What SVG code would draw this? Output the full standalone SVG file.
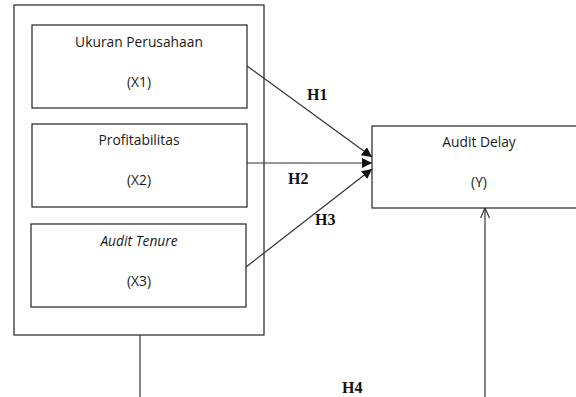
<svg xmlns="http://www.w3.org/2000/svg" width="576" height="397" viewBox="0 0 576 397">
<style>
.box{fill:#fff;stroke:#222;stroke-width:1.2}
.t{font-family:"Open Sans","Noto Sans",sans-serif;font-size:13.8px;fill:#1a1a1a;text-anchor:middle}
.h{font-family:"Liberation Serif","Times New Roman",serif;font-size:16px;font-weight:bold;fill:#111}
.c{stroke:#333;stroke-width:1.2;fill:none}
</style>
<defs>
<marker id="fa" viewBox="0 0 10 10" refX="10" refY="5" markerWidth="10" markerHeight="10" markerUnits="userSpaceOnUse" orient="auto"><path d="M0,0 L10,5 L0,10 z" fill="#111"/></marker>
<marker id="oa" viewBox="0 0 10 10" refX="10" refY="5" markerWidth="10" markerHeight="10" markerUnits="userSpaceOnUse" orient="auto"><path d="M0,0.5 L10,5 L0,9.5" fill="none" stroke="#333" stroke-width="1.2"/></marker>
</defs>
<rect width="576" height="397" fill="#fff"/>
<g id="outer"><rect class="box" x="14" y="5" width="250" height="330"/></g>
<g id="x1"><rect class="box" x="32" y="25" width="215" height="83"/><text class="t" x="139" y="47">Ukuran Perusahaan</text><text class="t" x="139" y="87">(X1)</text></g>
<g id="x2"><rect class="box" x="32" y="124" width="215" height="83"/><text class="t" x="139" y="145">Profitabilitas</text><text class="t" x="139" y="185">(X2)</text></g>
<g id="x3"><rect class="box" x="31" y="224" width="215" height="83"/><text class="t" x="139" y="246" font-style="italic">Audit Tenure</text><text class="t" x="139" y="286">(X3)</text></g>
<g id="y"><rect class="box" x="372" y="126" width="215" height="82"/><text class="t" x="479" y="147">Audit Delay</text><text class="t" x="479" y="187">(Y)</text></g>
<g id="connectors">
<line class="c" x1="247" y1="66" x2="372" y2="157" marker-end="url(#fa)"/>
<line class="c" x1="247" y1="163" x2="372" y2="163" marker-end="url(#fa)"/>
<line class="c" x1="246" y1="267" x2="372" y2="169" marker-end="url(#fa)"/>
<line class="c" x1="140" y1="335" x2="140" y2="397"/>
<line class="c" x1="485" y1="397" x2="485" y2="208" marker-end="url(#oa)"/>
</g>
<g id="labels">
<text class="h" x="307" y="100">H1</text>
<text class="h" x="288" y="184">H2</text>
<text class="h" x="315" y="225">H3</text>
<text class="h" x="342" y="393">H4</text>
</g>
</svg>
